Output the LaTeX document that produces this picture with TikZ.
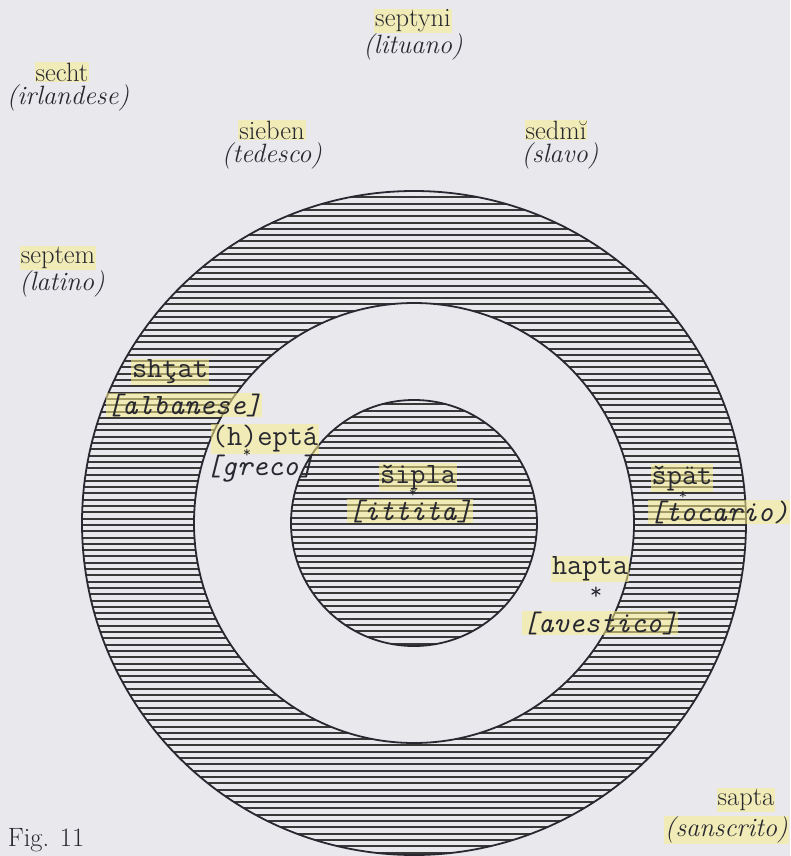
\documentclass[tikz,border=0pt]{standalone}
\usepackage{fontspec}
\definecolor{paper}{RGB}{232,232,237}
\definecolor{ink}{RGB}{40,40,48}
\definecolor{hl}{RGB}{250,238,140}
\tikzset{
  lbl/.style={inner sep=1pt, text=ink, font=\fontsize{26.5}{28}\selectfont},
  lang/.style={lbl, font=\fontsize{26.5}{28}\selectfont\itshape},
  tw/.style={inner sep=1pt, text=ink, font=\fontsize{29.5}{31}\selectfont\ttfamily},
  twi/.style={tw, font=\fontsize{29.5}{31}\selectfont\ttfamily\itshape},
  hili/.style={fill=hl, fill opacity=0.55, text opacity=1},
  star/.style={inner sep=0pt, text=ink, font=\fontsize{16}{16}\selectfont\ttfamily},
  bigstar/.style={inner sep=0pt, text=ink, font=\fontsize{24}{24}\selectfont\ttfamily},
  hatch/.style={line width=2pt, draw=black!78},
  ring/.style={line width=1.8pt, draw=ink}
}
\begin{document}
\begin{tikzpicture}[x=1pt,y=-1pt]
\fill[paper] (0,0) rectangle (790,856);
\useasboundingbox (0,0) rectangle (790,856);
\coordinate (c) at (414,523);
% outer hatched ring
\begin{scope}
  \clip (c) circle[radius=332pt];
  \foreach \y in {191,197.3,...,860} \draw[hatch] (60,\y) -- (760,\y);
\end{scope}
\fill[paper] (c) circle[radius=220pt];
% inner hatched disk
\begin{scope}
  \clip (c) circle[radius=123pt];
  \foreach \y in {398,404.3,...,650} \draw[hatch] (280,\y) -- (550,\y);
\end{scope}
\draw[ring] (c) circle[radius=332pt];
\draw[ring] (c) circle[radius=220pt];
\draw[ring] (c) circle[radius=123pt];
% outside labels
\node[lbl, hili] (septyni) at (413,21) {septyni};
\node[lang] (lituano) at (413,47) {(lituano)};
\node[lbl, hili] (secht) at (62,72) {secht};
\node[lang] (irlandese) at (68,98) {(irlandese)};
\node[lbl, hili] (sieben) at (272,130) {sieben};
\node[lang] (tedesco) at (272,156) {(tedesco)};
\node[lbl, hili] (sedmi) at (556,130) {sedmĭ};
\node[lang] (slavo) at (560,156) {(slavo)};
\node[lbl, hili] (septem) at (58,258) {septem};
\node[lang] (latino) at (62,284) {(latino)};
\node[lbl, hili] (sapta) at (746,800) {sapta};
\node[lang, hili, anchor=east] (sanscrito) at (789,830) {(sanscrito)};
\node[lbl] (fig) at (46,840) {Fig. 11};
% typewritten labels
\node[tw, hili] (shtat) at (170,372) {shţat};
\node[twi, hili] (albanese) at (184,405) {[albanese]};
\node[tw, hili] (hepta) at (265,439) {(h)eptá};
\node[star] (sh) at (247,453) {*};
\node[twi] (greco) at (260,469) {[greco]};
\node[tw, hili] (sipla) at (418,477) {šipla};
\node[star] (ss) at (413,493) {*};
\node[twi, hili] (ittita) at (410,511) {[ittita]};
\node[tw, hili] (spat) at (682,478) {špät};
\node[star] (sp) at (683,495) {*};
\node[twi, hili, anchor=east] (tocario) at (790,512) {[tocario)};
\node[tw, hili] (hapta) at (590,569) {hapta};
\node[bigstar] (sa) at (596,593) {*};
\node[twi, hili] (avestico) at (600,623) {[avestico]};
\end{tikzpicture}
\end{document}
